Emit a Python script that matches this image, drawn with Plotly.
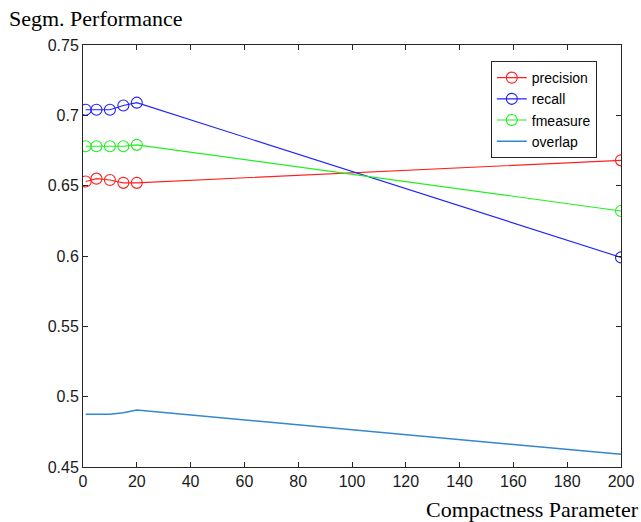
import plotly.graph_objects as go

x_vals = [1, 5, 10, 15, 20, 200]
precision = [0.653, 0.655, 0.654, 0.652, 0.652, 0.668]
recall = [0.704, 0.704, 0.704, 0.707, 0.709, 0.599]
fmeasure = [0.678, 0.678, 0.678, 0.678, 0.679, 0.632]
overlap = [0.4875, 0.4875, 0.4875, 0.4885, 0.4905, 0.459]

x_ticks = [0, 20, 40, 60, 80, 100, 120, 140, 160, 180, 200]
y_ticks = [0.45, 0.5, 0.55, 0.6, 0.65, 0.7, 0.75]
y_tick_labels = ["0.45", "0.5", "0.55", "0.6", "0.65", "0.7", "0.75"]

fig = go.Figure()
for name, vals, col in [("precision", precision, "#ff2020"),
                        ("recall", recall, "#2020ff"),
                        ("fmeasure", fmeasure, "#20f020")]:
    fig.add_trace(go.Scatter(x=x_vals, y=vals, name=name, mode="lines+markers",
                             line=dict(color=col, width=1.1),
                             marker=dict(symbol="circle-open", size=11,
                                         line=dict(color=col, width=1.1))))
fig.add_trace(go.Scatter(x=x_vals, y=overlap, name="overlap", mode="lines",
                         line=dict(color="#3088d2", width=1.5)))

axis_common = dict(showgrid=False, zeroline=False, ticks="inside", ticklen=5,
                   tickcolor="#262626", showline=True, linecolor="#262626",
                   linewidth=1, mirror="ticks",
                   tickfont=dict(family="Liberation Sans, Arial", size=16, color="#1a1a1a"))

fig.update_xaxes(range=[0, 200], tickvals=x_ticks, **axis_common)
fig.update_yaxes(range=[0.45, 0.75], tickvals=y_ticks, ticktext=y_tick_labels, **axis_common)

fig.update_layout(
    width=641, height=522,
    margin=dict(l=83, r=20, t=45, b=55, autoexpand=False),
    paper_bgcolor="white", plot_bgcolor="white",
    showlegend=True,
    legend=dict(x=0.758, y=0.962, xanchor="left", yanchor="top",
                bgcolor="white", bordercolor="#262626", borderwidth=1,
                font=dict(family="Liberation Sans, Arial", size=14, color="#000000"),
                tracegroupgap=0, itemwidth=30),
    annotations=[
        dict(text="Segm. Performance", xref="paper", yref="paper",
             x=0, y=1.0, xshift=-76, yshift=27, xanchor="left", yanchor="middle", showarrow=False,
             font=dict(family="Liberation Serif, Times New Roman", size=22, color="#000000")),
        dict(text="Compactness Parameter", xref="paper", yref="paper",
             x=1.0, y=0, xshift=20, yshift=-42, xanchor="right", yanchor="middle", showarrow=False,
             font=dict(family="Liberation Serif, Times New Roman", size=22, color="#000000")),
    ],
)

fig.write_html("out.html", config={"displayModeBar": False})
with open("out.html", "r", encoding="utf-8") as f:
    html = f.read()
html = html.replace("<body>", '<body style="margin:0;padding:0;">', 1)
with open("out.html", "w", encoding="utf-8") as f:
    f.write(html)
